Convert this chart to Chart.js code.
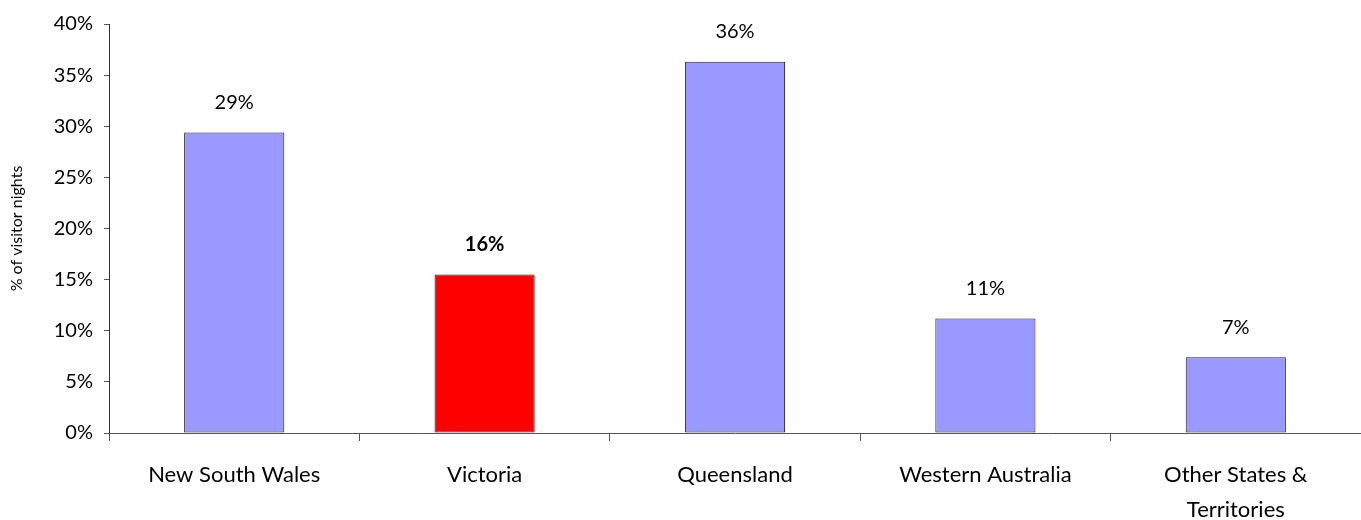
<!DOCTYPE html>
<html>
<head>
<meta charset="utf-8">
<script src="https://cdn.jsdelivr.net/npm/chart.js@4"></script>
<style>
  html, body { margin: 0; padding: 0; background: #fff; }
  #wrap { width: 1361px; height: 520px; }
</style>
</head>
<body>
<div id="wrap"><canvas id="chart"></canvas></div>
<script>
const states = ['New South Wales', 'Victoria', 'Queensland', 'Western Australia', ['Other States &', 'Territories']];
const nightsShare = [29.4, 15.5, 36.3, 11.2, 7.4];
const shareLabels = ['29%', '16%', '36%', '11%', '7%'];
const highlight = [false, true, false, false, false];

const FONT = 'Lato, "Open Sans", sans-serif';

// draw the value above each bar
const valueLabels = {
  id: 'valueLabels',
  afterDatasetsDraw(chart) {
    const ctx = chart.ctx;
    const meta = chart.getDatasetMeta(0);
    ctx.save();
    ctx.fillStyle = '#000';
    ctx.textAlign = 'center';
    ctx.textBaseline = 'middle';
    meta.data.forEach((bar, i) => {
      ctx.font = (highlight[i] ? 'bold ' : '') + '20px ' + FONT;
      ctx.fillText(shareLabels[i], bar.x, bar.y - 30);
    });
    ctx.restore();
  }
};

new Chart(document.getElementById('chart').getContext('2d'), {
  type: 'bar',
  data: {
    labels: states,
    datasets: [{
      data: nightsShare,
      backgroundColor: highlight.map(h => h ? '#ff0000' : '#9999ff'),
      borderColor: '#222233',
      borderWidth: 1,
      borderSkipped: false,
      barPercentage: 0.4,
      categoryPercentage: 1
    }]
  },
  options: {
    responsive: true,
    maintainAspectRatio: false,
    animation: false,
    layout: { padding: { top: 24, right: 0, left: 0, bottom: 0 } },
    plugins: { legend: { display: false }, tooltip: { enabled: false } },
    scales: {
      x: {
        offset: true,
        grid: { offset: true, drawOnChartArea: false, tickLength: 8, color: '#555' },
        border: { color: '#555' },
        ticks: { color: '#000', padding: 16, font: { family: FONT, size: 22, lineHeight: 1.6 } },
        afterFit: s => { s.height = 87; }
      },
      y: {
        min: 0, max: 40,
        grid: { drawOnChartArea: false, tickLength: 5, color: '#555' },
        border: { color: '#333' },
        ticks: { stepSize: 5, color: '#000', padding: 11, font: { family: FONT, size: 20 }, callback: v => v + '%' },
        title: { display: true, text: '% of visitor nights', color: '#000', padding: { top: 7, bottom: 0 }, font: { family: FONT, size: 16 } },
        afterFit: s => { s.width = 109; }
      }
    }
  },
  plugins: [valueLabels]
});
</script>
</body>
</html>
